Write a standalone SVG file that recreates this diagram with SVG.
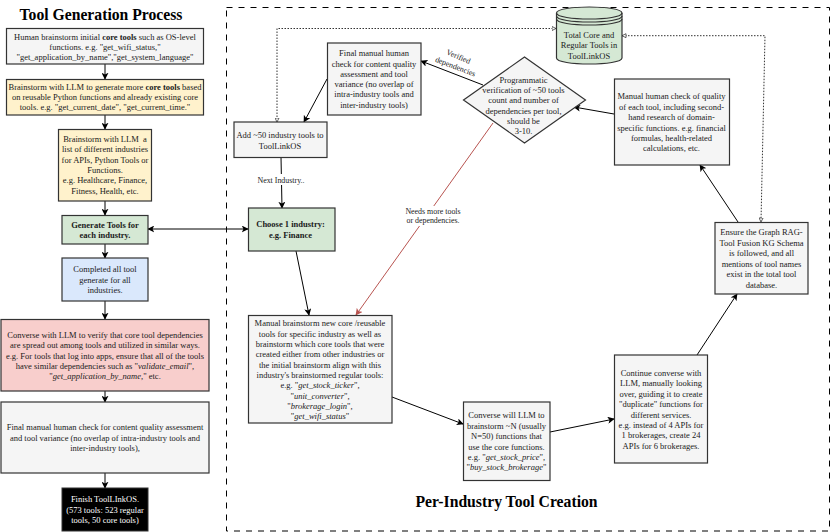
<svg xmlns="http://www.w3.org/2000/svg" width="831" height="532" viewBox="0 0 831 532">
<defs>
<marker id="a" viewBox="0 0 10 10" refX="9" refY="5" markerWidth="7" markerHeight="7" markerUnits="userSpaceOnUse" orient="auto-start-reverse"><path d="M0 0L10 5L0 10L2.500 5Z" fill="#000"/></marker>
<marker id="ar" viewBox="0 0 10 10" refX="9" refY="5" markerWidth="7" markerHeight="7" markerUnits="userSpaceOnUse" orient="auto"><path d="M0 0L10 5L0 10L2.500 5Z" fill="#b85450"/></marker>
<marker id="o" viewBox="0 0 10 10" refX="9" refY="5" markerWidth="5" markerHeight="5" markerUnits="userSpaceOnUse" orient="auto-start-reverse"><path d="M1 1L9 5L1 9Z" fill="#fff" stroke="#333" stroke-width="1.500"/></marker>
</defs>
<style>
text{font-family:"Liberation Serif","Times New Roman",serif;font-size:8.5px;text-anchor:middle;fill:#1a1a1a}
.t{font-size:15.700px;font-weight:bold;fill:#000}
.b{stroke:#333;stroke-width:1.200;fill:#f5f5f5}
.g{fill:#d5e8d4}.y{fill:#fff2cc}.bl{fill:#dae8fc}.r{fill:#f8cecc}
.c{fill:none;stroke:#000;stroke-width:1;marker-end:url(#a)}
.d{fill:none;stroke:#333;stroke-width:1;stroke-dasharray:1.500 1.500;marker-end:url(#o);marker-start:url(#o)}
.l{font-size:7.900px}
.w{fill:#fff}
.h{font-weight:bold}
tspan.e{font-weight:bold}
tspan.i{font-style:italic}
</style>
<rect width="831" height="532" fill="#fff"/>
<text class="t" x="101" y="20">Tool Generation Process</text>
<text class="t" x="506.500" y="507">Per-Industry Tool Creation</text>
<rect x="226.500" y="7.500" width="603" height="523.500" fill="none" stroke="#000" stroke-width="1" stroke-dasharray="6 6"/>
<g id="connectors">
<path class="c" d="M105 64V79"/>
<path class="c" d="M105 115V129"/>
<path class="c" d="M105 201V215"/>
<path class="c" d="M105 244V258"/>
<path class="c" d="M105 301V319"/>
<path class="c" d="M105 391V402"/>
<path class="c" d="M105 473V488"/>
<path class="c" d="M148 229H248" style="marker-start:url(#a)"/>
<path class="c" d="M483 85L421 61"/>
<path class="c" d="M327 79L304 122"/>
<path class="c" d="M281 157L282 208"/>
<path class="c" d="M296 251L309 315"/>
<path d="M493 123L356 315" fill="none" stroke="#b85450" stroke-width="1" marker-end="url(#ar)"/>
<path class="c" d="M392 397L463 424"/>
<path class="c" d="M550 432L614 419"/>
<path class="c" d="M697 355L737 294"/>
<path class="c" d="M738 222L700 165"/>
<path class="c" d="M614 114L574 107"/>
<path class="d" d="M556 28.500H277V122"/>
<path class="d" d="M622 35.700H765L761 222"/>
</g>
<rect x="251" y="174" width="62" height="11" fill="#fff"/>
<text class="l" x="281" y="182.500">Next Industry..</text>
<rect x="402" y="206" width="60" height="20" fill="#fff"/>
<text class="l" x="433" y="213.500">Needs more tools</text>
<text class="l" x="433" y="223">or dependencies.</text>
<text class="l" transform="translate(457.500 59) rotate(23)">Verified</text>
<text class="l" transform="translate(454.500 69) rotate(21)">dependencies</text>
<g id="n1"><rect class="b" x="6.500" y="28.500" width="197" height="35.500"/>
<text x="105" y="39.500">Human brainstorm initial <tspan class="e">core tools</tspan> such as OS-level</text><text x="105" y="50">functions. e.g. "get_wifi_status,"</text><text x="105" y="60">"get_application_by_name","get_system_language"</text></g>
<g id="n2"><rect class="b y" x="6.500" y="79.500" width="197" height="35.500"/>
<text x="105" y="89.500">Brainstorm with LLM to generate more <tspan class="e">core tools</tspan> based</text><text x="105" y="100">on reusable Python functions and already existing core</text><text x="105" y="110">tools. e.g. "get_current_date", "get_current_time."</text></g>
<g id="n3"><rect class="b y" x="58.500" y="129.500" width="93" height="71.500"/>
<text x="105" y="142">Brainstorm with LLM&#160; a</text><text x="105" y="152">list of different industries</text><text x="105" y="162.500">for APIs, Python Tools or</text><text x="105" y="173">Functions.</text><text x="105" y="183">e.g. Healthcare, Finance,</text><text x="105" y="193.500">Fitness, Health, etc.</text></g>
<g id="n4"><rect class="b g" x="62" y="215.500" width="86" height="28.500"/>
<text class="h" x="105" y="227.500">Generate Tools for</text><text class="h" x="105" y="238">each industry.</text></g>
<g id="n5"><rect class="b bl" x="62" y="258" width="86" height="43"/>
<text x="105" y="272">Completed all tool</text><text x="105" y="282.500">generate for all</text><text x="105" y="292.500">industries.</text></g>
<g id="n6"><rect class="b r" x="1" y="319.500" width="208" height="71.500"/>
<text x="105" y="337.500">Converse with LLM to verify that core tool dependencies</text><text x="105" y="348">are spread out among tools and utilized in similar ways.</text><text x="105" y="358.500">e.g. For tools that log into apps, ensure that all of the tools</text><text x="105" y="369">have similar dependencies such as "<tspan class="i">validate_email</tspan>",</text><text x="105" y="379">"<tspan class="i">get_application_by_name</tspan>," etc.</text></g>
<g id="n7"><rect class="b" x="1" y="402" width="208" height="71"/>
<text x="105" y="430">Final manual human check for content quality assessment</text><text x="105" y="440.500">and tool variance (no overlap of intra-industry tools and</text><text x="105" y="451">inter-industry tools),</text></g>
<g id="n8"><rect x="62" y="488" width="86" height="43" fill="#000" stroke="#333"/>
<text class="w" x="105" y="502">Finish ToolLInkOS.</text><text class="w" x="105" y="512.500">(573 tools: 523 regular</text><text class="w" x="105" y="522.500">tools, 50 core tools)</text></g>
<g id="n9"><rect class="b" x="234" y="122" width="93" height="35.500"/>
<text x="280" y="137.500">Add ~50 industry tools to</text><text x="280" y="148.500">ToolLinkOS</text></g>
<g id="n10"><rect class="b" x="327.500" y="43" width="93.500" height="72"/>
<text x="374" y="55.500">Final manual human</text><text x="374" y="66.500">check for content quality</text><text x="374" y="76.500">assessment and tool</text><text x="374" y="87">variance (no overlap of</text><text x="374" y="97">intra-industry tools and</text><text x="374" y="107.500">inter-industry tools)</text></g>
<g id="n11"><rect class="b g" x="248.500" y="208" width="86.500" height="43"/>
<text class="h" x="290.500" y="227">Choose 1 industry:</text><text class="h" x="290.500" y="238">e.g. Finance</text></g>
<g id="n12"><path class="b" d="M463.500 100L524.500 57L585.500 100L524.500 143Z"/>
<text x="523.500" y="83">Programmatic</text><text x="523.500" y="93">verification of ~50 tools</text><text x="523.500" y="103">count and number of</text><text x="523.500" y="113.500">dependencies per tool,</text><text x="523.500" y="124">should be</text><text x="523.500" y="134">3-10.</text></g>
<g id="n13"><path class="b g" d="M556.500 13C556.500 5 622 5 622 13V58C622 66 556.500 66 556.500 58Z"/><path d="M556.500 13C556.500 21 622 21 622 13M556.500 16C556.500 24 622 24 622 16M556.500 19C556.500 27 622 27 622 19" fill="none" stroke="#333" stroke-width="1.200"/>
<text x="589" y="38">Total Core and</text><text x="589" y="48">Regular Tools in</text><text x="589" y="58.500">ToolLinkOS</text></g>
<g id="n14"><rect class="b" x="614.500" y="79" width="115" height="86"/>
<text x="671.500" y="99">Manual human check of quality</text><text x="671.500" y="109.500">of each tool, including second-</text><text x="671.500" y="120">hand research of domain-</text><text x="671.500" y="130.500">specific functions. e.g. financial</text><text x="671.500" y="140.500">formulas, health-related</text><text x="671.500" y="151">calculations, etc.</text></g>
<g id="n15"><rect class="b" x="715" y="222.500" width="93" height="71.500"/>
<text x="761.500" y="235">Ensure the Graph RAG-</text><text x="761.500" y="246">Tool Fusion KG Schema</text><text x="761.500" y="256">is followed, and all</text><text x="761.500" y="267">mentions of tool names</text><text x="761.500" y="277">exist in the total tool</text><text x="761.500" y="287.500">database.</text></g>
<g id="n16"><rect class="b" x="614.500" y="355" width="93" height="108"/>
<text x="661" y="375.500">Continue converse with</text><text x="661" y="386">LLM, manually looking</text><text x="661" y="397">over, guiding it to create</text><text x="661" y="407">"duplicate" functions for</text><text x="661" y="417.500">different services.</text><text x="661" y="428">e.g. instead of 4 APIs for</text><text x="661" y="438">1 brokerages, create 24</text><text x="661" y="448.500">APIs for 6 brokerages.</text></g>
<g id="n17"><rect class="b" x="463.500" y="402" width="86.500" height="78.500"/>
<text x="506.500" y="418">Converse will LLM to</text><text x="506.500" y="428.500">brainstorm ~N (usually</text><text x="506.500" y="439">N=50) functions that</text><text x="506.500" y="449.500">use the core functions.</text><text x="506.500" y="459.500">e.g. "<tspan class="i">get_stock_price</tspan>",</text><text x="506.500" y="470">"<tspan class="i">buy_stock_brokerage</tspan>"</text></g>
<g id="n18"><rect class="b" x="248.500" y="315.500" width="143.500" height="107.500"/>
<text x="320" y="326">Manual brainstorm new core /reusable</text><text x="320" y="336.500">tools for specific industry as well as</text><text x="320" y="346.500">brainstorm which core tools that were</text><text x="320" y="357">created either from other industries or</text><text x="320" y="367.500">the initial brainstorm align with this</text><text x="320" y="378">industry's brainstormed regular tools:</text><text x="320" y="388">e.g. "<tspan class="i">get_stock_ticker</tspan>",</text><text x="320" y="398.500">"<tspan class="i">unit_converter</tspan>",</text><text x="320" y="409">"<tspan class="i">brokerage_login</tspan>",</text><text x="320" y="419">"<tspan class="i">get_wifi_status</tspan>"</text></g>
</svg>
